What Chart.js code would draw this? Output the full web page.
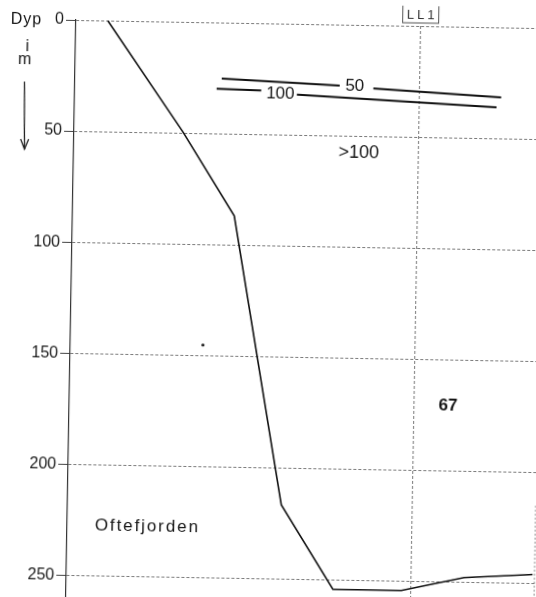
<!DOCTYPE html>
<html>
<head>
<meta charset="utf-8">
<script src="https://cdn.jsdelivr.net/npm/chart.js@4"></script>
<style>
  html, body { margin: 0; padding: 0; background: #fff; overflow: hidden; width: 536px; height: 597px; }
  /* the scanned sheet sits about one degree off square */
  #chart { position: absolute; left: 0; top: 0; transform: rotate(1deg); transform-origin: 76px 20px; }
</style>
</head>
<body>
<canvas id="chart" width="560" height="620"></canvas>
<script>
// depth axis (m)
const depthTicks = [0, 50, 100, 150, 200, 250];

// fjord bottom profile: distance along section (arbitrary units) and depth (m)
const bottomDist  = [32, 110, 163, 215.5, 269, 338, 401, 470];
const bottomDepth = [0, 49.7, 86.9, 216.6, 254.2, 254.2, 247.9, 246];

// isolines, null = gap where the value label sits
const iso50Dist   = [148, 267, 284, 301, 430];
const iso50Depth  = [25.2, 27.5, null, 28.5, 31.5];
const iso100Dist  = [143, 188, 206, 224, 425.5];
const iso100Depth = [29.8, 30.3, null, 31.8, 36.0];

// station
const stationName = 'LL1';
const stationDist = 347.5;
const edgeStationDist = 472;

// stray dot on the sheet
const dotDist = [133.7];
const dotDepth = [145.3];

// text written on the section
const labelText  = ['Dyp', 'i', 'm', '>100', '67', 'Oftefjorden', '50', '100'];
const labelDist  = [-50, -48.5, -51, 287.3, 381.8, 80.9, 282.2, 207.3];
const labelDepth = [0.4, 12.6, 18.3, 57.7, 170.6, 227.5, 27.8, 31.5];

// depth arrow under "Dyp i m"
const arrowDist  = [-50.9, -49.7];
const arrowDepth = [28.1, 58.5];

const toPoints = (xs, ys) => xs.map((x, i) => ({ x: x, y: ys[i] }));

const labelFonts = [
  '16px "Liberation Sans"', '16px "Liberation Sans"', '16px "Liberation Sans"',
  '18px "Liberation Sans"', 'bold 17px "Liberation Sans"', '17px "Liberation Sans"',
  '17px "Liberation Sans"', '17px "Liberation Sans"'
];
const labelSpacing = ['1px', '0px', '0px', '0px', '0px', '1.9px', '0px', '0px'];

const annotate = {
  id: 'annotate',
  afterDraw(chart) {
    const ctx = chart.ctx;
    const xs = chart.scales.x, ys = chart.scales.y;
    ctx.save();
    ctx.fillStyle = '#151515';
    ctx.textAlign = 'center';
    ctx.textBaseline = 'middle';
    labelText.forEach((t, i) => {
      ctx.font = labelFonts[i];
      ctx.letterSpacing = labelSpacing[i];
      ctx.fillText(t, xs.getPixelForValue(labelDist[i]), ys.getPixelForValue(labelDepth[i]));
    });

    // arrow
    const ax0 = xs.getPixelForValue(arrowDist[0]), ay0 = ys.getPixelForValue(arrowDepth[0]);
    const ax1 = xs.getPixelForValue(arrowDist[1]), ay1 = ys.getPixelForValue(arrowDepth[1]);
    ctx.strokeStyle = '#222';
    ctx.lineWidth = 1.3;
    ctx.beginPath();
    ctx.moveTo(ax0, ay0);
    ctx.lineTo(ax1, ay1);
    ctx.stroke();
    ctx.beginPath();
    ctx.moveTo(ax1 - 4, ay1 - 10);
    ctx.lineTo(ax1, ay1);
    ctx.lineTo(ax1 + 4, ay1 - 10);
    ctx.stroke();

    // station box
    const sx = xs.getPixelForValue(stationDist);
    const sy = ys.getPixelForValue(0) - 12;
    ctx.strokeStyle = '#555';
    ctx.lineWidth = 1;
    ctx.strokeRect(sx - 18, sy - 9, 36, 18);
    ctx.font = '13px "Liberation Sans"';
    ctx.letterSpacing = '3px';
    ctx.fillStyle = '#333';
    ctx.fillText(stationName, sx + 1.5, sy + 1);
    ctx.restore();
  }
};

new Chart(document.getElementById('chart'), {
  type: 'line',
  data: {
    datasets: [
      {
        data: toPoints(bottomDist, bottomDepth),
        borderColor: '#111', borderWidth: 1.6, pointRadius: 0, tension: 0
      },
      {
        data: toPoints(iso50Dist, iso50Depth),
        borderColor: '#111', borderWidth: 2, pointRadius: 0, spanGaps: false
      },
      {
        data: toPoints(iso100Dist, iso100Depth),
        borderColor: '#111', borderWidth: 2, pointRadius: 0, spanGaps: false
      },
      {
        data: toPoints([stationDist, stationDist], [0, 270]),
        borderColor: '#777', borderWidth: 1, borderDash: [3, 2], pointRadius: 0
      },
      {
        data: toPoints([edgeStationDist, edgeStationDist], [215, 270]),
        borderColor: '#888', borderWidth: 1, borderDash: [2, 2], pointRadius: 0
      },
      {
        type: 'scatter',
        data: toPoints(dotDist, dotDepth),
        pointRadius: 1.6, pointBackgroundColor: '#222', pointBorderWidth: 0
      }
    ]
  },
  options: {
    responsive: false,
    animation: false,
    layout: { padding: { top: 20, left: 0, right: 0, bottom: 0 } },
    plugins: { legend: { display: false }, tooltip: { enabled: false } },
    scales: {
      x: { type: 'linear', min: 0, max: 484, display: false },
      y: {
        type: 'linear', reverse: true, min: 0, max: 268.3,
        afterBuildTicks: s => { s.ticks = depthTicks.map(v => ({ value: v })); },
        afterFit: s => { s.width = 76; s.paddingTop = 0; s.paddingBottom = 0; },
        grid: { color: '#7a7a7a', lineWidth: 1, tickLength: 10, tickColor: '#444', drawTicks: true },
        border: { display: true, color: '#333', width: 1.2, dash: [3, 2] },
        ticks: {
          padding: 2, color: '#1a1a1a',
          font: { family: 'Liberation Sans', size: 16 },
          callback: v => String(v)
        }
      }
    }
  },
  plugins: [annotate]
});
</script>
</body>
</html>
